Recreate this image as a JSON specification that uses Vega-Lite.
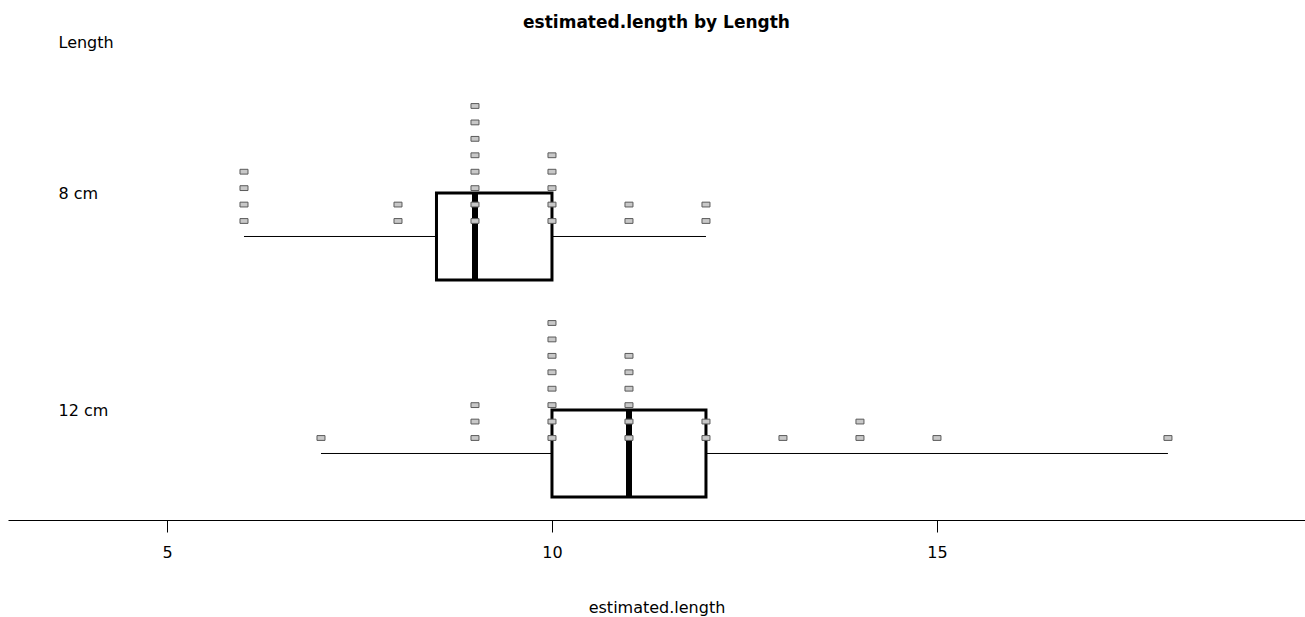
{
  "$schema": "https://vega.github.io/schema/vega-lite/v6.json",
  "width": 1297,
  "height": 460,
  "autosize": {"type": "none"},
  "padding": {"left": 8, "top": 60, "right": 0, "bottom": 97},
  "background": "white",
  "title": {
    "text": "estimated.length by Length",
    "fontSize": 17,
    "fontWeight": "bold",
    "font": "DejaVu Sans",
    "color": "black",
    "anchor": "middle",
    "frame": "group",
    "offset": 2
  },
  "config": {
    "font": "DejaVu Sans",
    "view": {"stroke": null},
    "axis": {"grid": false, "labelColor": "black", "titleColor": "black", "labelFont": "DejaVu Sans", "titleFont": "DejaVu Sans"}
  },
  "data": {
    "values": [
      {"Length": "8 cm", "estimate": 6},
      {"Length": "8 cm", "estimate": 6},
      {"Length": "8 cm", "estimate": 6},
      {"Length": "8 cm", "estimate": 6},
      {"Length": "8 cm", "estimate": 8},
      {"Length": "8 cm", "estimate": 8},
      {"Length": "8 cm", "estimate": 9},
      {"Length": "8 cm", "estimate": 9},
      {"Length": "8 cm", "estimate": 9},
      {"Length": "8 cm", "estimate": 9},
      {"Length": "8 cm", "estimate": 9},
      {"Length": "8 cm", "estimate": 9},
      {"Length": "8 cm", "estimate": 9},
      {"Length": "8 cm", "estimate": 9},
      {"Length": "8 cm", "estimate": 10},
      {"Length": "8 cm", "estimate": 10},
      {"Length": "8 cm", "estimate": 10},
      {"Length": "8 cm", "estimate": 10},
      {"Length": "8 cm", "estimate": 10},
      {"Length": "8 cm", "estimate": 11},
      {"Length": "8 cm", "estimate": 11},
      {"Length": "8 cm", "estimate": 12},
      {"Length": "8 cm", "estimate": 12},
      {"Length": "12 cm", "estimate": 7},
      {"Length": "12 cm", "estimate": 9},
      {"Length": "12 cm", "estimate": 9},
      {"Length": "12 cm", "estimate": 9},
      {"Length": "12 cm", "estimate": 10},
      {"Length": "12 cm", "estimate": 10},
      {"Length": "12 cm", "estimate": 10},
      {"Length": "12 cm", "estimate": 10},
      {"Length": "12 cm", "estimate": 10},
      {"Length": "12 cm", "estimate": 10},
      {"Length": "12 cm", "estimate": 10},
      {"Length": "12 cm", "estimate": 10},
      {"Length": "12 cm", "estimate": 11},
      {"Length": "12 cm", "estimate": 11},
      {"Length": "12 cm", "estimate": 11},
      {"Length": "12 cm", "estimate": 11},
      {"Length": "12 cm", "estimate": 11},
      {"Length": "12 cm", "estimate": 11},
      {"Length": "12 cm", "estimate": 12},
      {"Length": "12 cm", "estimate": 12},
      {"Length": "12 cm", "estimate": 13},
      {"Length": "12 cm", "estimate": 14},
      {"Length": "12 cm", "estimate": 14},
      {"Length": "12 cm", "estimate": 15},
      {"Length": "12 cm", "estimate": 18}
    ]
  },
  "layer": [
    {
      "mark": {
        "type": "boxplot",
        "extent": "min-max",
        "size": 87,
        "box": {"fill": "white", "stroke": "black", "strokeWidth": 3},
        "median": {"color": "black", "thickness": 6, "opacity": 1},
        "rule": {"color": "black", "strokeWidth": 1}
      },
      "encoding": {
        "x": {
          "field": "estimate",
          "type": "quantitative",
          "title": "estimated.length",
          "scale": {"domain": [2.935, 19.78], "nice": false, "zero": false},
          "axis": {
            "values": [5, 10, 15],
            "format": "d",
            "domainColor": "black",
            "domainWidth": 1,
            "tickColor": "black",
            "tickSize": 12,
            "labelFontSize": 16,
            "labelPadding": 12,
            "labelFontWeight": "normal",
            "titleFontSize": 16,
            "titleFontWeight": "normal",
            "titleY": 87,
            "titleBaseline": "middle"
          }
        },
        "y": {
          "field": "Length",
          "type": "nominal",
          "title": "Length",
          "scale": {
            "domain": ["8 cm", "12 cm"],
            "paddingInner": 0.599,
            "paddingOuter": 0.3594,
            "align": 0.8526
          },
          "axis": {
            "domain": false,
            "ticks": false,
            "tickSize": 0,
            "labelAlign": "left",
            "labelBaseline": "middle",
            "labelOffset": -42,
            "labelPadding": -50,
            "labelFontSize": 16,
            "titleFontSize": 16,
            "titleFontWeight": "normal",
            "titleAngle": 0,
            "titleAlign": "left",
            "titleBaseline": "middle",
            "titleX": 50,
            "titleY": -18
          }
        }
      }
    },
    {
      "transform": [
        {
          "window": [{"op": "row_number", "as": "k"}],
          "groupby": ["Length", "estimate"]
        }
      ],
      "mark": {
        "type": "point",
        "shape": "M-1,-0.6L1,-0.6L1,0.6L-1,0.6Z",
        "size": 64,
        "filled": true,
        "fill": "#c8c8c8",
        "stroke": "#5a5a5a",
        "strokeWidth": 1,
        "opacity": 1
      },
      "encoding": {
        "x": {"field": "estimate", "type": "quantitative"},
        "y": {"field": "Length", "type": "nominal"},
        "yOffset": {
          "field": "k",
          "type": "ordinal",
          "scale": {
            "type": "point",
            "domain": [8, 7, 6, 5, 4, 3, 2, 1],
            "range": [-87, 28],
            "padding": 0
          }
        }
      }
    }
  ]
}
